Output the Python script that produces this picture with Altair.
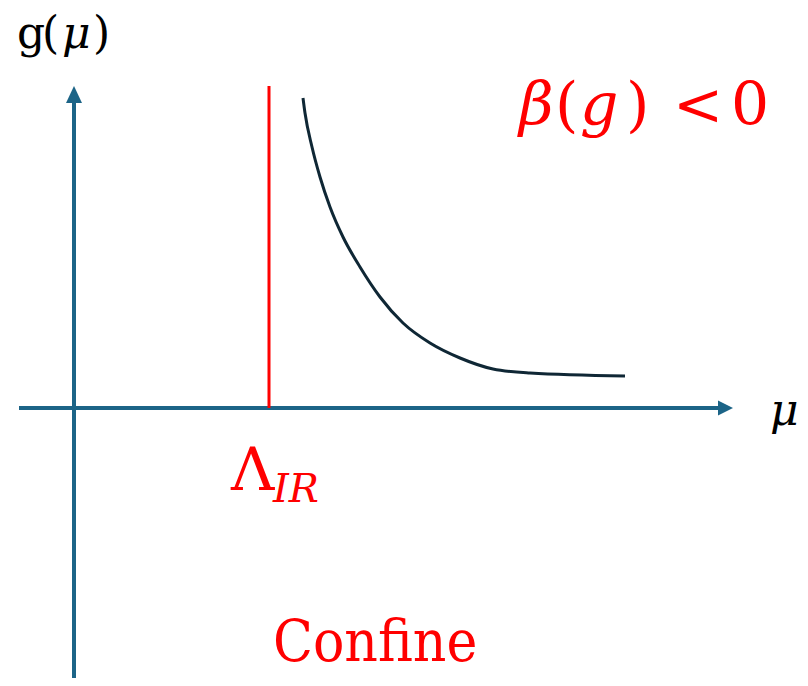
import altair as alt
import pandas as pd

# ---- data (diagram units; origin at the axes crossing) ----
curve_mu = [2.29, 2.31, 2.38, 2.46, 2.56, 2.69, 2.86, 3.06, 3.29, 3.56, 3.86, 4.19, 4.56, 5.51]
curve_g = [3.10, 2.95, 2.61, 2.31, 2.01, 1.71, 1.41, 1.11, 0.85, 0.65, 0.50, 0.39, 0.35, 0.32]

lambda_ir = 1.95
lambda_top = 3.22

axis_x = [-0.55, 6.46]     # horizontal axis extent
axis_y = [-2.80, 3.08]     # vertical axis extent
arrow_up = (0.0, 3.135)
arrow_right = (6.515, 0.0)

label_text = ["g", "(", "μ", ")", "β", "(", "g", ")", "<", "0", "Λ", "IR", "μ", "Confine"]
label_x = [-0.57, -0.32, -0.12, 0.19, 4.45, 4.81, 5.06, 5.52, 5.99, 6.57, 1.57, 1.99, 6.96, 1.99]
label_y = [3.60, 3.60, 3.60, 3.60, 2.83, 2.83, 2.83, 2.83, 2.83, 2.83, -0.82, -0.94, -0.17, -2.53]
label_italic = [False, False, True, False, True, False, True, False, False, False, False, True, True, False]
label_size = [44, 44, 44, 44, 60, 60, 60, 60, 60, 60, 60, 40, 44, 58]
label_color = ["#000000"] * 4 + ["#ff0000"] * 8 + ["#000000", "#ff0000"]
label_font = ["DejaVu Serif"] * 13 + ["DejaVu Serif Condensed"]

AXIS_COLOR = "#1c6487"
CURVE_COLOR = "#0f2735"
RED = "#ff0000"

xs = alt.Scale(domain=[-0.66, 7.26], nice=False, zero=False)
ys = alt.Scale(domain=[-2.70, 4.00], nice=False, zero=False)

def X(f="x"):
    return alt.X(f"{f}:Q", scale=xs, axis=None)

def Y(f="y"):
    return alt.Y(f"{f}:Q", scale=ys, axis=None)

axes_df = pd.DataFrame({
    "x": [axis_x[0], 0.0], "x2": [axis_x[1], 0.0],
    "y": [0.0, axis_y[0]], "y2": [0.0, axis_y[1]],
})
axes = alt.Chart(axes_df).mark_rule(color=AXIS_COLOR, strokeWidth=4).encode(
    x=X(), x2="x2:Q", y=Y(), y2="y2:Q"
)

up_df = pd.DataFrame({"x": [arrow_up[0]], "y": [arrow_up[1]]})
up = alt.Chart(up_df).mark_point(
    shape="M0,-1 L0.94,1 L-0.94,1 Z", filled=True, opacity=1,
    color=AXIS_COLOR, size=289, strokeWidth=0,
).encode(x=X(), y=Y())

right_df = pd.DataFrame({"x": [arrow_right[0]], "y": [arrow_right[1]]})
right = alt.Chart(right_df).mark_point(
    shape="M-1,-1 L1,0 L-1,1 Z", filled=True, opacity=1,
    color=AXIS_COLOR, size=225, strokeWidth=0,
).encode(x=X(), y=Y())

red_df = pd.DataFrame({"x": [lambda_ir], "y": [0.0], "y2": [lambda_top]})
red = alt.Chart(red_df).mark_rule(color=RED, strokeWidth=3).encode(
    x=X(), y=Y(), y2="y2:Q"
)

curve_df = pd.DataFrame({"x": curve_mu, "y": curve_g})
curve = alt.Chart(curve_df).mark_line(
    color=CURVE_COLOR, strokeWidth=3, interpolate="monotone"
).encode(x=X(), y=Y(), order=alt.Order("x:Q"))

labels_df = pd.DataFrame({
    "x": label_x, "y": label_y, "text": label_text, "font": label_font,
    "italic": label_italic, "size": label_size, "color": label_color,
})

def text_layer(font, italic):
    return alt.Chart(labels_df).transform_filter(
        (alt.datum.italic == italic) & (alt.datum.font == font)
    ).mark_text(
        font=font, align="left", baseline="alphabetic",
        fontStyle="italic" if italic else "normal",
    ).encode(
        x=X(), y=Y(), text="text:N",
        size=alt.Size("size:Q", scale=None, legend=None),
        color=alt.Color("color:N", scale=None, legend=None),
    )

combos = sorted({(f, i) for f, i in zip(label_font, label_italic)})
texts = [text_layer(f, i) for f, i in combos]

chart = alt.layer(
    axes, up, right, red, curve, *texts
).properties(
    width=792, height=670, padding=0,
    autosize=alt.AutoSizeParams(type="none"),
    background="white",
).configure_view(stroke=None)

chart.save("out.html", embed_options={"renderer": "svg", "actions": False})
